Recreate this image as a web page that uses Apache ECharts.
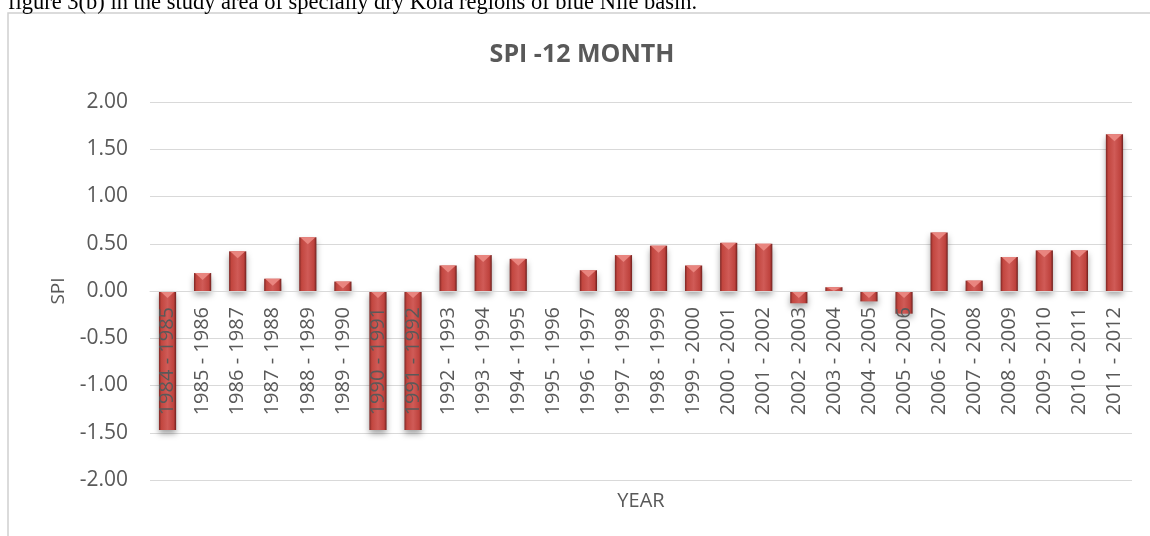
<!DOCTYPE html>
<html>
<head>
<meta charset="utf-8">
<style>html,body{margin:0;padding:0;background:#fff;}#c{width:1150px;height:536px;}</style>
<script src="https://cdn.jsdelivr.net/npm/echarts@6/dist/echarts.min.js"></script>
</head>
<body>
<div id="c"></div>
<script>
const categories = ["1984 - 1985","1985 - 1986","1986 - 1987","1987 - 1988","1988 - 1989","1989 - 1990","1990 - 1991","1991 - 1992","1992 - 1993","1993 - 1994","1994 - 1995","1995 - 1996","1996 - 1997","1997 - 1998","1998 - 1999","1999 - 2000","2000 - 2001","2001 - 2002","2002 - 2003","2003 - 2004","2004 - 2005","2005 - 2006","2006 - 2007","2007 - 2008","2008 - 2009","2009 - 2010","2010 - 2011","2011 - 2012"];
const spiValues = [-1.47, 0.19, 0.42, 0.13, 0.57, 0.10, -1.47, -1.47, 0.27, 0.38, 0.34, 0.00, 0.22, 0.38, 0.48, 0.27, 0.51, 0.50, -0.13, 0.04, -0.11, -0.24, 0.62, 0.11, 0.36, 0.43, 0.43, 1.66];
const yTicks = {min: -2, max: 2, interval: 0.5};
const chartTitle = "SPI -12 MONTH";
const caption = "figure 3(b) in the study area of specially dry Kola regions of blue Nile basin.";

const chart = echarts.init(document.getElementById('c'), null, {renderer: 'canvas'});
const FONT = '"Open Sans", sans-serif';
const GRAY = '#595959';
const GRID = {left: 150, right: 18, top: 102, bottom: 56};
// plot height in px, used to move the category axis onto the zero line
const plotH = 536 - GRID.top - GRID.bottom;
const zeroOffset = -plotH * (0 - yTicks.min) / (yTicks.max - yTicks.min);

function renderItem(params, api) {
  const i = api.value(0), v = api.value(1);
  const pz = api.coord([i, 0]);
  const pv = api.coord([i, v]);
  const bw = api.size([1, 0])[0] * 0.49;
  const x = pz[0] - bw / 2;
  const yTop = Math.min(pz[1], pv[1]);
  const h = Math.abs(pz[1] - pv[1]);
  if (h < 0.5) return null;
  const th = Math.min(7, h);
  const grad = new echarts.graphic.LinearGradient(0, 0, 1, 0, [
    {offset: 0, color: '#7e2624'},
    {offset: 0.14, color: '#c2463f'},
    {offset: 0.5, color: '#d05b57'},
    {offset: 0.86, color: '#be423d'},
    {offset: 1, color: '#6e1f1d'}
  ]);
  return {
    type: 'group',
    children: [
      {type: 'rect', shape: {x: x, y: yTop, width: bw, height: h},
       style: {fill: grad, shadowBlur: 6, shadowOffsetY: 4, shadowColor: 'rgba(0,0,0,0.35)'}},
      {type: 'polygon', shape: {points: [[x + 1, yTop], [x + bw - 1, yTop], [x + bw / 2, yTop + th]]},
       style: {fill: '#e9857f'}}
    ]
  };
}

chart.setOption({
  animation: false,
  backgroundColor: '#ffffff',
  graphic: [
    {type: 'rect', shape: {x: 8, y: 13, width: 1160, height: 600}, style: {fill: 'none', stroke: '#d0d0d0', lineWidth: 1.5}, z: -1},
    {type: 'text', x: 8, y: 3, style: {text: caption, font: '22.5px "Liberation Serif", serif', fill: '#000', textVerticalAlign: 'middle'}},
    {type: 'text', x: 582, y: 55, style: {text: chartTitle, font: 'bold 25px ' + FONT, fill: GRAY, textAlign: 'center', textVerticalAlign: 'middle'}}
  ],
  grid: {left: GRID.left, right: GRID.right, top: GRID.top, bottom: GRID.bottom, containLabel: false, outerBoundsMode: 'none'},
  xAxis: {
    type: 'category',
    data: categories,
    z: 10,
    offset: zeroOffset,
    axisLine: {show: true, onZero: false, lineStyle: {color: '#d9d9d9', width: 1}},
    axisTick: {show: false},
    axisLabel: {rotate: 90, fontFamily: FONT, fontSize: 20, color: GRAY, margin: 16, interval: 0},
    name: 'YEAR',
    nameLocation: 'middle',
    nameGap: 200,
    nameTextStyle: {fontFamily: FONT, fontSize: 20, color: GRAY},
    splitLine: {show: false}
  },
  yAxis: {
    type: 'value',
    min: yTicks.min, max: yTicks.max, interval: yTicks.interval,
    axisLine: {show: false},
    axisTick: {show: false},
    axisLabel: {fontFamily: FONT, fontSize: 21, color: GRAY, margin: 22, formatter: v => v.toFixed(2)},
    splitLine: {lineStyle: {color: '#d9d9d9', width: 1}},
    name: 'SPI',
    nameLocation: 'middle',
    nameGap: 82,
    nameRotate: 90,
    nameTextStyle: {fontFamily: FONT, fontSize: 19, color: GRAY}
  },
  series: [{
    type: 'custom',
    renderItem: renderItem,
    encode: {x: 0, y: 1},
    data: spiValues.map((v, i) => [i, v]),
    z: 2
  }]
});
</script>
</body>
</html>
